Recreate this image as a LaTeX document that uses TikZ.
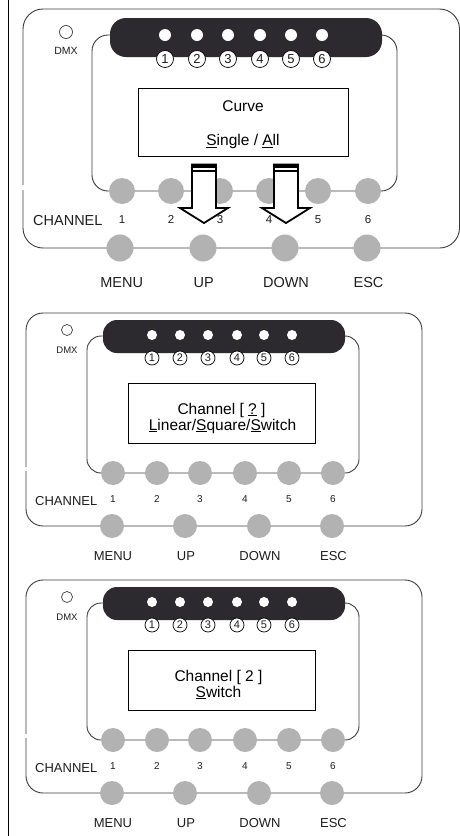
\documentclass[tikz,border=0pt]{standalone}
\usepackage{fontspec}
\setmainfont{Liberation Sans}
\definecolor{barc}{RGB}{44,42,46}
\definecolor{btnc}{RGB}{178,178,178}
\definecolor{framec}{RGB}{60,60,60}
\definecolor{txtc}{RGB}{30,30,30}
\newcommand\fs[1]{\fontsize{#1}{#1}\selectfont}
\tikzset{
  frame/.style={draw=framec, line width=0.9pt},
  barfill/.style={fill=barc},
  led/.style={circle, fill=white, inner sep=0pt},
  numc/.style={circle, draw=black, fill=white, line width=0.7pt, inner sep=0pt, text=txtc},
  btn/.style={circle, fill=btnc, inner sep=0pt},
  lbl/.style={inner sep=0pt, text=txtc, anchor=base},
  dmxc/.style={circle, draw=framec, line width=0.7pt, inner sep=0pt},
  disp/.style={draw=black, fill=white, line width=0.8pt, inner sep=0pt, anchor=north west},
  bigarrow/.style={draw=black, fill=white, line width=1.8pt, line join=miter},
}
\newcommand\smallpanel[6]{%
\begin{scope}[yshift=-#2pt]
  \draw[frame, rounded corners=17pt] (26,313) rectangle (422,526);
  \draw[white, line width=2pt] (26,467) -- (26,471);
  \draw[frame, rounded corners=14pt] (87,336) rectangle (359,473);
  \fill[barfill, rounded corners=14pt] (103,320) rectangle (345,353);
  \foreach \x [count=\i] in {152,180,208,237,264,292} {
    \node[led, minimum size=10pt] (#1l\i) at (\x,335) {};
    \node[numc, minimum size=14pt, font=\fs{11}] (#1n\i) at (\x,358) {\i};
  }
  \node[dmxc, minimum size=11pt] (#1dmx) at (67,330) {};
  \node[lbl, font=\fs{9.5}] (#1dmxt) at (67,353) {DMX};
  \node[disp, minimum width=187pt, minimum height=60pt] (#1disp) at (128,383) {};
  \node[lbl, font=\fs{15.5}, text=black] (#1t1) at (#5,414) {#3};
  \node[lbl, font=\fs{15.5}, text=black] (#1t2) at (#6,430) {#4};
  \foreach \x [count=\i] in {113,157,200,245,289,333} {
    \node[btn, minimum size=24pt] (#1c\i) at (\x,473) {};
    \node[lbl, font=\fs{10}] (#1cn\i) at (\x,502.3) {\i};
  }
  \node[lbl, font=\fs{13}, anchor=base west] (#1ch) at (35,505) {CHANNEL};
  \foreach \x [count=\i] in {112,185,259,332} {
    \node[btn, minimum size=24pt] (#1f\i) at (\x,526) {};
  }
  \node[lbl, font=\fs{13}] (#1fl1) at (113,560) {MENU};
  \node[lbl, font=\fs{13}] (#1fl2) at (186,560) {UP};
  \node[lbl, font=\fs{13}] (#1fl3) at (260,560) {DOWN};
  \node[lbl, font=\fs{13}] (#1fl4) at (333.5,560) {ESC};
\end{scope}}
\begin{document}
\begin{tikzpicture}[x=1pt,y=-1pt]
\useasboundingbox (0,0) rectangle (460,836);
\fill[white] (0,0) rectangle (460,836);
\draw[black, line width=0.9pt] (8,0) -- (8,836);
% ---------- panel 1 ----------
\draw[frame, rounded corners=20pt] (23,9) rectangle (459.5,248);
\draw[white, line width=2pt] (23,185) -- (23,190);
\draw[frame, rounded corners=16pt] (92,35) rectangle (397,191);
\fill[barfill, rounded corners=16pt] (110,18) rectangle (382,57);
\foreach \x [count=\i] in {165,197,228,260,291,322} {
  \node[led, minimum size=12pt] (p1l\i) at (\x,35) {};
  \node[numc, minimum size=17pt, font=\fs{13}] (p1n\i) at (\x,59) {\i};
}
\node[dmxc, minimum size=13pt] (p1dmx) at (66,32) {};
\node[lbl, font=\fs{10.5}] (p1dmxt) at (66,54) {DMX};
\node[disp, minimum width=210pt, minimum height=68pt] (p1disp) at (138,88) {};
\node[lbl, font=\fs{15.5}, text=black] (p1t1) at (243,111) {Curve};
\node[lbl, font=\fs{15.5}, text=black] (p1t2) at (243,145.5) {\underline{S}ingle / \underline{A}ll};
\foreach \x [count=\i] in {122,171,220,269,318,368} {
  \node[btn, minimum size=26pt] (p1c\i) at (\x,191) {};
  \node[lbl, font=\fs{11.5}] (p1cn\i) at (\x,223) {\i};
}
\node[lbl, font=\fs{14.5}, anchor=base west] (p1ch) at (33,225.5) {CHANNEL};
\foreach \x [count=\i] in {120,203,285,367} {
  \node[btn, minimum size=27pt] (p1f\i) at (\x,248) {};
}
\node[lbl, font=\fs{14.5}] (p1fl1) at (121.7,287.3) {MENU};
\node[lbl, font=\fs{14.5}] (p1fl2) at (203.8,287.3) {UP};
\node[lbl, font=\fs{14.5}] (p1fl3) at (286,287.3) {DOWN};
\node[lbl, font=\fs{14.5}] (p1fl4) at (368.5,287.3) {ESC};
% arrows
\foreach \c in {204,286} {
  \draw[bigarrow] (\c-12,164.5) -- (\c-12,208) -- (\c-24,208) -- (\c,223) -- (\c+24,208) -- (\c+12,208) -- (\c+12,164.5) -- cycle;
  \fill[black] (\c-12.9,163.6) rectangle (\c+12.9,168);
  \draw[black, line width=1.3pt] (\c-12,171) -- (\c+12,171);
}
% ---------- panels 2 and 3 ----------
\smallpanel{p2}{0}{Channel [ \underline{?} ]}{\underline{L}inear/\underline{S}quare/\underline{S}witch}{221.5}{222.5}
\smallpanel{p3}{267}{Channel [ 2 ]}{\underline{S}witch}{218.5}{218.5}
\end{tikzpicture}
\end{document}
